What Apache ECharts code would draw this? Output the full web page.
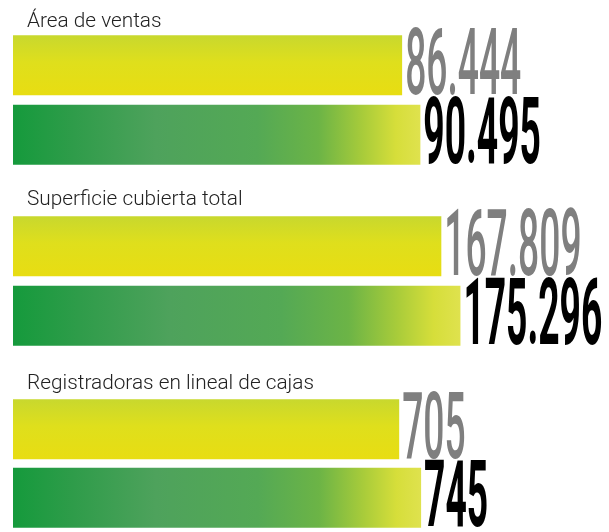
<!DOCTYPE html>
<html>
<head>
<meta charset="utf-8">
<script src="https://cdn.jsdelivr.net/npm/echarts@6/dist/echarts.min.js"></script>
<style>
html,body{margin:0;padding:0;background:#fff;}
#chart{width:609px;height:532px;}
</style>
</head>
<body>
<div id="chart"></div>
<script>
// ---- data ----
const groups = ['Área de ventas', 'Superficie cubierta total', 'Registradoras en lineal de cajas'];
const periods = ['Anterior', 'Actual'];
const previousValues = [86444, 167809, 705];
const currentValues = [90495, 175296, 745];
const axisMax = [132400, 233500, 1088];

// ---- layout / style ----
const gridTops = [30.5, 211.5, 395];
const titleY = [22, 199.5, 383.5];
const GRID_H = 139;
const LEFT = 13;
const BAR_W = 60;
const NUM_FONT_SIZE = 93;
const NUM_SCALE_X = 0.40;
const NUM_GAP = 3;
const NUM_DY = 5;

function fmt(v) {
  return String(v).replace(/\B(?=(\d{3})+(?!\d))/g, '.');
}

const yellowGrad = new echarts.graphic.LinearGradient(0, 0, 0, 1, [
  { offset: 0, color: '#c8d82e' },
  { offset: 0.45, color: '#dfdf1c' },
  { offset: 1, color: '#e8dd12' }
]);
const greenGrad = new echarts.graphic.LinearGradient(0, 0, 1, 0, [
  { offset: 0, color: '#159a3c' },
  { offset: 0.15, color: '#2f9c4a' },
  { offset: 0.35, color: '#4ea25c' },
  { offset: 0.6, color: '#54a955' },
  { offset: 0.75, color: '#6cb446' },
  { offset: 0.86, color: '#a9cc3a' },
  { offset: 0.94, color: '#d6de3a' },
  { offset: 1, color: '#dfe24e' }
]);

const grid = [], xAxis = [], yAxis = [], series = [], graphic = [];

groups.forEach((name, i) => {
  grid.push({ left: LEFT, right: 0, top: gridTops[i], height: GRID_H });
  xAxis.push({ type: 'value', gridIndex: i, min: 0, max: axisMax[i], show: false });
  yAxis.push({ type: 'category', gridIndex: i, data: periods, inverse: true, show: false });

  series.push({
    type: 'bar', name: periods[0], xAxisIndex: i, yAxisIndex: i,
    data: [previousValues[i], '-'], barWidth: BAR_W, barGap: '-100%',
    itemStyle: { color: yellowGrad }, silent: true
  });
  series.push({
    type: 'bar', name: periods[1], xAxisIndex: i, yAxisIndex: i,
    data: ['-', currentValues[i]], barWidth: BAR_W, barGap: '-100%',
    itemStyle: { color: greenGrad }, silent: true
  });
  series.push({
    type: 'custom', xAxisIndex: i, yAxisIndex: i, z: 10, silent: true,
    data: [[previousValues[i], 0], [currentValues[i], 1]],
    renderItem: function (params, api) {
      const p = api.coord([api.value(0), api.value(1)]);
      const isCur = params.dataIndex === 1;
      return {
        type: 'text',
        x: p[0] + NUM_GAP,
        y: p[1] + NUM_DY,
        scaleX: NUM_SCALE_X,
        style: {
          text: fmt(api.value(0)),
          fill: isCur ? '#000000' : '#7f7f7f',
          font: (isCur ? 'bold ' : '500 ') + NUM_FONT_SIZE + 'px Roboto',
          align: 'left',
          verticalAlign: 'middle'
        }
      };
    }
  });

  graphic.push({
    type: 'text', x: 27, y: titleY[i], scaleX: 0.99, silent: true,
    style: {
      text: name, fill: '#222222', font: '300 21px Roboto',
      align: 'left', verticalAlign: 'middle'
    }
  });
});

const chart = echarts.init(document.getElementById('chart'), null, { renderer: 'canvas' });
chart.setOption({
  animation: false,
  backgroundColor: '#ffffff',
  grid, xAxis, yAxis, series, graphic
});
</script>
</body>
</html>
